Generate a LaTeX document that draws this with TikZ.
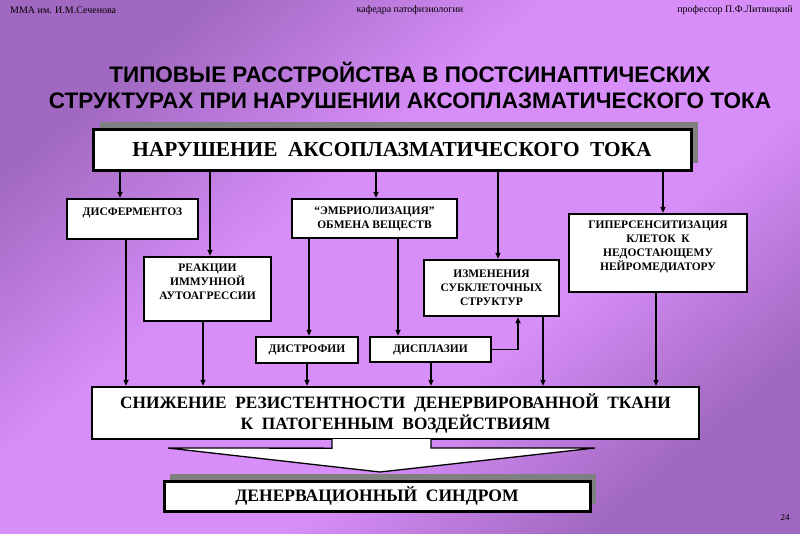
\documentclass[tikz,border=0pt]{standalone}
\usepackage{fontspec}
\setmainfont{Liberation Serif}
\newfontfamily\titlefont{Liberation Sans}
\usetikzlibrary{arrows.meta,shadows,calc}
\definecolor{bgdark}{RGB}{160,104,192}
\definecolor{bgmid}{RGB}{190,124,226}
\definecolor{bglight}{RGB}{216,142,248}
\definecolor{shadowgray}{RGB}{128,128,128}
\pgfdeclareverticalshading{bgshade}{100bp}{color(0bp)=(bgdark); color(25bp)=(bgdark); color(40bp)=(bglight); color(58bp)=(bglight); color(75bp)=(bgdark); color(100bp)=(bgdark)}
\begin{document}
\begin{tikzpicture}[x=1pt,y=-1pt,
  box/.style={draw=black, line width=2.3pt, fill=white, align=center,
    font=\bfseries\fontsize{11.5}{14}\selectfont, inner sep=0pt},
  bigbox/.style={box, line width=3pt},
  arr/.style={line width=1.6pt, -{Triangle[length=6pt,width=5pt]}},
  hdr/.style={font=\fontsize{10}{11}\selectfont, inner sep=0pt},
  shad/.style={drop shadow={shadow xshift=7pt, shadow yshift=7pt, fill=shadowgray, opacity=1}}
]
\useasboundingbox (0,0) rectangle (800,533);
\shade[shading=bgshade, shading angle=40] (0,0) rectangle (800,533);

% header
\node[hdr, anchor=west] (h1) at (10,10) {ММА им. И.М.Сеченова};
\node[hdr] (h2) at (410,10) {кафедра патофизиологии};
\node[hdr, anchor=east] (h3) at (793,10) {профессор П.Ф.Литвицкий};
\node[hdr, font=\fontsize{9}{10}\selectfont] (pg) at (785,518) {24};

% title
\node[font=\titlefont\bfseries\fontsize{22.5}{26}\selectfont, align=center, inner sep=0pt] (title) at (410,85)
  {ТИПОВЫЕ РАССТРОЙСТВА В ПОСТСИНАПТИЧЕСКИХ\\СТРУКТУРАХ ПРИ НАРУШЕНИИ АКСОПЛАЗМАТИЧЕСКОГО ТОКА};

% boxes
\node[bigbox, shad, minimum width=598, minimum height=41, font=\bfseries\fontsize{21.3}{24}\selectfont] (top) at (392,149.5)
  {НАРУШЕНИЕ\ \ АКСОПЛАЗМАТИЧЕСКОГО\ \ ТОКА};
\node[box, minimum width=131, minimum height=40] (disf) at (132.5,219) {ДИСФЕРМЕНТОЗ\\\mbox{}};
\node[box, minimum width=127, minimum height=64] (reak) at (207.5,289) {РЕАКЦИИ\\ИММУННОЙ\\АУТОАГРЕССИИ\\\mbox{}};
\node[box, minimum width=165, minimum height=39] (embr) at (374.5,218.5) {“ЭМБРИОЛИЗАЦИЯ”\\ОБМЕНА ВЕЩЕСТВ};
\node[box, minimum width=135, minimum height=56] (izm) at (491.5,288) {ИЗМЕНЕНИЯ\\СУБКЛЕТОЧНЫХ\\СТРУКТУР};
\node[box, minimum width=178, minimum height=78] (giper) at (658,253) {ГИПЕРСЕНСИТИЗАЦИЯ\\КЛЕТОК\ \ К\\НЕДОСТАЮЩЕМУ\\НЕЙРОМЕДИАТОРУ\\\mbox{}};
\node[box, minimum width=102, minimum height=26] (distr) at (307,350) {ДИСТРОФИИ};
\node[box, minimum width=121, minimum height=25] (displ) at (430.5,349.5) {ДИСПЛАЗИИ};
\node[box, minimum width=607, minimum height=52, font=\bfseries\fontsize{17.3}{21}\selectfont] (snizh) at (395.5,413)
  {СНИЖЕНИЕ\ \ РЕЗИСТЕНТНОСТИ\ \ ДЕНЕРВИРОВАННОЙ\ \ ТКАНИ\\К\ \ ПАТОГЕННЫМ\ \ ВОЗДЕЙСТВИЯМ};
\node[bigbox, minimum width=426, minimum height=30, font=\bfseries\fontsize{17.5}{21}\selectfont,
  drop shadow={shadow xshift=6pt, shadow yshift=7pt, fill=shadowgray, opacity=1}] (den) at (377,496)
  {ДЕНЕРВАЦИОННЫЙ\ \ СИНДРОМ};

% connectors from top box
\draw[arr] (top.south -| 120,0) -- (disf.north -| 120,0);
\draw[arr] (top.south -| 210,0) -- (reak.north -| 210,0);
\draw[arr] (top.south -| 376,0) -- (embr.north -| 376,0);
\draw[arr] (top.south -| 498,0) -- (izm.north -| 498,0);
\draw[arr] (top.south -| 663,0) -- (giper.north -| 663,0);
% middle connectors
\draw[arr] (embr.south -| 309,0) -- (distr.north -| 309,0);
\draw[arr] (embr.south -| 398,0) -- (displ.north -| 398,0);
\draw[arr] (displ.east) -| (izm.south -| 518,0);
% to snizh
\draw[arr] (disf.south -| 126,0) -- (snizh.north -| 126,0);
\draw[arr] (reak.south -| 203,0) -- (snizh.north -| 203,0);
\draw[arr] (distr.south -| 307,0) -- (snizh.north -| 307,0);
\draw[arr] (displ.south -| 431,0) -- (snizh.north -| 431,0);
\draw[arr] (izm.south -| 543,0) -- (snizh.north -| 543,0);
\draw[arr] (giper.south -| 656,0) -- (snizh.north -| 656,0);

% big block arrow
\coordinate (sL) at ($(snizh.south)+(-63.5,-1)$);
\coordinate (sR) at ($(snizh.south)+(35.5,-1)$);
\fill[white] (sL) -- ++(0,9) -- (168,448) -- (380,472) -- (595,448) -- (sR |- 0,448) -- (sR) -- cycle;
\draw[line width=1.3pt, line join=miter] (sL) -- ++(0,9) -- (168,448) -- (380,472) -- (595,448) -- (sR |- 0,448) -- (sR);
\end{tikzpicture}
\end{document}
